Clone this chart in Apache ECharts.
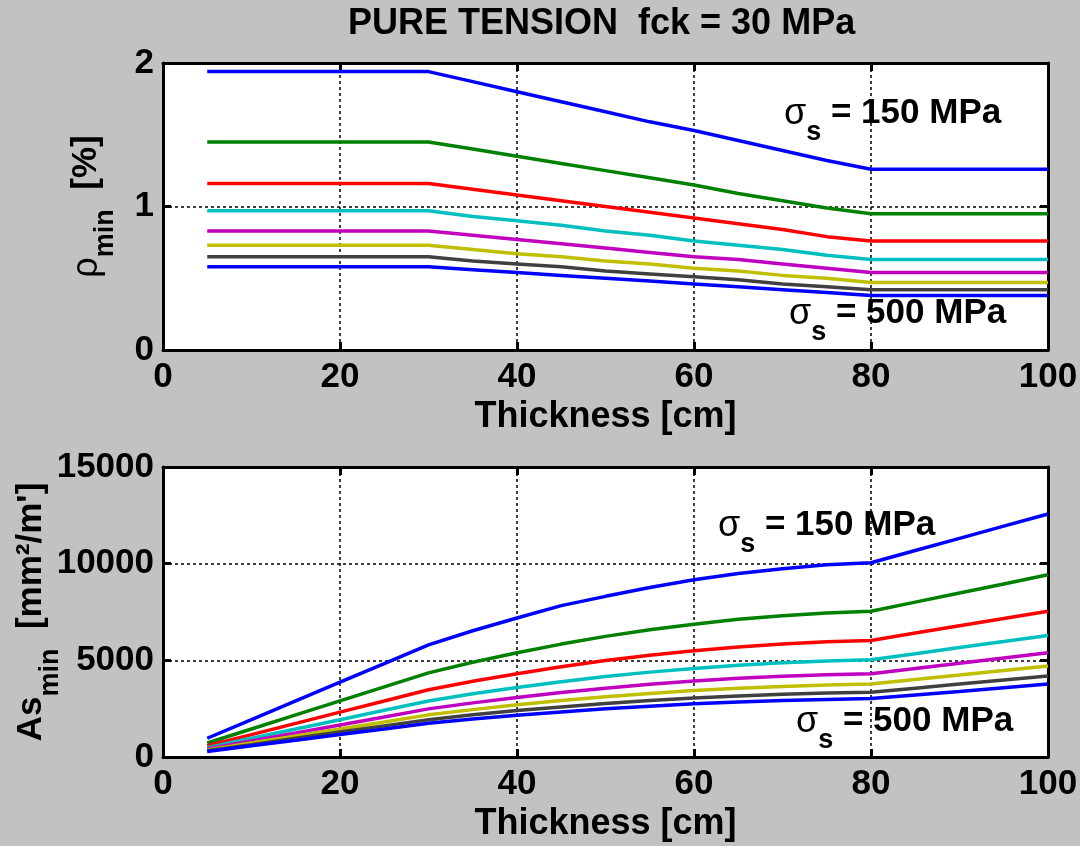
<!DOCTYPE html>
<html>
<head>
<meta charset="utf-8">
<script src="https://cdn.jsdelivr.net/npm/echarts@6/dist/echarts.min.js"></script>
<style>
html, body { margin: 0; padding: 0; background: #c2c3c0; }
#chart { width: 1080px; height: 846px; }
</style>
</head>
<body>
<div id="chart"></div>
<script>
// slab thickness [cm]
const thickness = [5, 10, 15, 20, 25, 30, 35, 40, 45, 50, 55, 60, 65, 70, 75, 80, 85, 90, 95, 100];

// rho_min [%], one curve per steel stress sigma_s
const rho150 = [1.94, 1.94, 1.94, 1.94, 1.94, 1.94, 1.87, 1.80, 1.73, 1.66, 1.59, 1.53, 1.46, 1.39, 1.32, 1.26, 1.26, 1.26, 1.26, 1.26];
const rho200 = [1.45, 1.45, 1.45, 1.45, 1.45, 1.45, 1.40, 1.35, 1.30, 1.25, 1.20, 1.15, 1.09, 1.04, 0.99, 0.95, 0.95, 0.95, 0.95, 0.95];
const rho250 = [1.16, 1.16, 1.16, 1.16, 1.16, 1.16, 1.12, 1.08, 1.04, 1.00, 0.96, 0.92, 0.88, 0.84, 0.79, 0.76, 0.76, 0.76, 0.76, 0.76];
const rho300 = [0.97, 0.97, 0.97, 0.97, 0.97, 0.97, 0.93, 0.90, 0.87, 0.83, 0.80, 0.76, 0.73, 0.70, 0.66, 0.63, 0.63, 0.63, 0.63, 0.63];
const rho350 = [0.83, 0.83, 0.83, 0.83, 0.83, 0.83, 0.80, 0.77, 0.74, 0.71, 0.68, 0.65, 0.63, 0.60, 0.57, 0.54, 0.54, 0.54, 0.54, 0.54];
const rho400 = [0.73, 0.73, 0.73, 0.73, 0.73, 0.73, 0.70, 0.67, 0.65, 0.62, 0.60, 0.57, 0.55, 0.52, 0.50, 0.47, 0.47, 0.47, 0.47, 0.47];
const rho450 = [0.65, 0.65, 0.65, 0.65, 0.65, 0.65, 0.62, 0.60, 0.58, 0.55, 0.53, 0.51, 0.49, 0.46, 0.44, 0.42, 0.42, 0.42, 0.42, 0.42];
const rho500 = [0.58, 0.58, 0.58, 0.58, 0.58, 0.58, 0.56, 0.54, 0.52, 0.50, 0.48, 0.46, 0.44, 0.42, 0.40, 0.38, 0.38, 0.38, 0.38, 0.38];

// As_min [mm2/m']
const as150 = [970, 1930, 2900, 3870, 4830, 5800, 6530, 7190, 7830, 8310, 8770, 9170, 9490, 9740, 9940, 10050, 10680, 11310, 11940, 12570];
const as200 = [725, 1450, 2175, 2900, 3625, 4350, 4900, 5390, 5840, 6240, 6580, 6870, 7120, 7310, 7450, 7540, 8010, 8480, 8950, 9430];
const as250 = [580, 1160, 1740, 2320, 2900, 3480, 3920, 4310, 4670, 4990, 5260, 5500, 5690, 5850, 5960, 6030, 6410, 6790, 7160, 7540];
const as300 = [480, 970, 1450, 1930, 2420, 2900, 3270, 3600, 3890, 4160, 4390, 4580, 4740, 4870, 4970, 5030, 5340, 5660, 5970, 6290];
const as350 = [410, 830, 1240, 1660, 2070, 2490, 2800, 3080, 3340, 3560, 3760, 3930, 4070, 4180, 4260, 4310, 4580, 4850, 5120, 5390];
const as400 = [360, 725, 1090, 1450, 1810, 2180, 2450, 2700, 2920, 3120, 3290, 3440, 3560, 3650, 3720, 3770, 4010, 4240, 4480, 4710];
const as450 = [320, 640, 970, 1290, 1610, 1930, 2180, 2400, 2590, 2770, 2920, 3050, 3160, 3250, 3310, 3350, 3560, 3770, 3980, 4190];
const as500 = [290, 580, 870, 1160, 1450, 1740, 1960, 2160, 2330, 2490, 2630, 2750, 2840, 2920, 2980, 3020, 3210, 3390, 3580, 3770];

const stresses = ['150', '200', '250', '300', '350', '400', '450', '500'];
const rhoCurves = [rho150, rho200, rho250, rho300, rho350, rho400, rho450, rho500];
const asCurves = [as150, as200, as250, as300, as350, as400, as450, as500];

const colors = ['#0000ff', '#008000', '#ff0000', '#00bfbf', '#bf00bf', '#bfbf00', '#404040', '#0000ff'];
const FONT = 'Liberation Sans, Arial, Helvetica, sans-serif';

// main text is top aligned, the subscript sits on the bottom of a taller line
const rich = {
    r: {fontSize: 35, fontWeight: 'bold', fontFamily: FONT, color: '#000', lineHeight: 40, verticalAlign: 'top'},
    g: {fontSize: 36, fontWeight: 'normal', fontFamily: FONT, color: '#000', lineHeight: 40, verticalAlign: 'top'},
    s: {fontSize: 27, fontWeight: 'bold', fontFamily: FONT, color: '#000', lineHeight: 50, verticalAlign: 'bottom'}
};

function pairs(ys){
    return thickness.map((t, i) => [t, ys[i]]);
}

function frameAxis(gridIndex, position, min, max, interval){
    return {
        type: 'value', gridIndex, position, min, max, interval,
        axisLine: {show: true, onZero: false, lineStyle: {color: '#000', width: 3}},
        axisTick: {show: true, inside: true, length: 8, lineStyle: {color: '#000', width: 3}},
        axisLabel: {show: false},
        splitLine: {show: false}
    };
}

function mainX(gridIndex){
    return {
        type: 'value', gridIndex, position: 'bottom', min: 0, max: 100, interval: 20,
        name: 'Thickness [cm]', nameLocation: 'middle', nameGap: 49, nameMoveOverlap: false,
        nameTextStyle: {fontSize: 36, fontWeight: 'bold', fontFamily: FONT, color: '#000'},
        axisLine: {show: true, onZero: false, lineStyle: {color: '#000', width: 3}},
        axisTick: {show: true, inside: true, length: 8, lineStyle: {color: '#000', width: 3}},
        axisLabel: {margin: 10, fontSize: 35, fontWeight: 'bold', fontFamily: FONT, color: '#000'},
        splitLine: {show: true, lineStyle: {color: '#000', width: 1.5, type: [3, 3]}}
    };
}

function mainY(gridIndex, max, interval, name, nameGap){
    return {
        type: 'value', gridIndex, position: 'left', min: 0, max, interval,
        name, nameLocation: 'middle', nameGap, nameRotate: 90, nameMoveOverlap: false,
        nameTextStyle: {rich},
        axisLine: {show: true, onZero: false, lineStyle: {color: '#000', width: 3}},
        axisTick: {show: true, inside: true, length: 8, lineStyle: {color: '#000', width: 3}},
        axisLabel: {margin: 9, fontSize: 35, fontWeight: 'bold', fontFamily: FONT, color: '#000',
            formatter: v => String(v)},
        splitLine: {show: true, lineStyle: {color: '#000', width: 1.5, type: [3, 3]}}
    };
}

function note(x, y, stress){
    return {
        type: 'text', x, y, z: 100,
        style: {text: '{g|σ}{s|s}{r| = ' + stress + ' MPa}', rich, align: 'left', verticalAlign: 'top'}
    };
}

const series = [];
rhoCurves.forEach((ys, i) => {
    series.push({
        name: 'rho ' + stresses[i], type: 'line', xAxisIndex: 0, yAxisIndex: 0,
        data: pairs(ys), showSymbol: false, silent: true,
        lineStyle: {color: colors[i], width: 3.5}
    });
});
asCurves.forEach((ys, i) => {
    series.push({
        name: 'As ' + stresses[i], type: 'line', xAxisIndex: 2, yAxisIndex: 2,
        data: pairs(ys), showSymbol: false, silent: true,
        lineStyle: {color: colors[i], width: 3.5}
    });
});

const chart = echarts.init(document.getElementById('chart'));
chart.setOption({
    backgroundColor: '#c2c3c0',
    animation: false,
    title: {
        text: 'PURE TENSION  fck = 30 MPa', left: 343, top: 1,
        textStyle: {fontSize: 36, fontWeight: 'bold', fontFamily: FONT, color: '#000'}
    },
    grid: [
        {left: 163, top: 63, width: 885, height: 287, show: true, backgroundColor: '#fff', borderWidth: 0, outerBoundsMode: 'none'},
        {left: 163, top: 467, width: 885, height: 290, show: true, backgroundColor: '#fff', borderWidth: 0, outerBoundsMode: 'none'}
    ],
    xAxis: [
        mainX(0),
        frameAxis(0, 'top', 0, 100, 20),
        mainX(1),
        frameAxis(1, 'top', 0, 100, 20)
    ],
    yAxis: [
        mainY(0, 2, 1, '{g|ρ}{s|min}{r|  [%]}', 44),
        frameAxis(0, 'right', 0, 2, 1),
        mainY(1, 15000, 5000, "{r|As}{s|min}{r|  [mm²/m']}", 99),
        frameAxis(1, 'right', 0, 15000, 5000)
    ],
    series,
    graphic: [
        note(784, 96, '150'),
        note(789, 296, '500'),
        note(718, 508, '150'),
        note(796, 704, '500')
    ]
});
</script>
</body>
</html>
